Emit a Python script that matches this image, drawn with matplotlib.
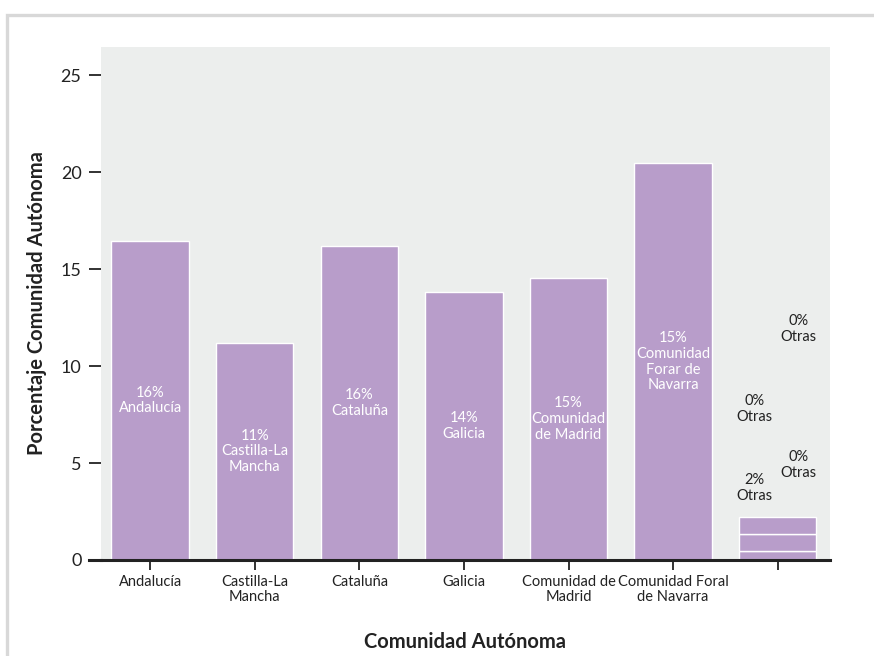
import matplotlib
matplotlib.use("Agg")
import matplotlib.pyplot as plt
from matplotlib.lines import Line2D

plt.rcParams['font.family'] = ['Lato', 'DejaVu Sans']

# Data
categories = ["Andalucía", "Castilla-La\nMancha", "Cataluña", "Galicia",
              "Comunidad de\nMadrid", "Comunidad Foral\nde Navarra", ""]
bar_values = [16.45, 11.2, 16.2, 13.8, 14.55, 20.45]
bar_labels = ["16%\nAndalucía", "11%\nCastilla-La\nMancha", "16%\nCataluña",
              "14%\nGalicia", "15%\nComunidad\nde Madrid",
              "15%\nComunidad\nForar de\nNavarra"]
otras_values = [0.46, 0.88, 0.87, 0.0]
otras_labels = ["2%\nOtras", "0%\nOtras", "0%\nOtras", "0%\nOtras"]
yticks = [0, 5, 10, 15, 20, 25]

# Style
BAR = "#b89dca"
BG = "#eceeed"
INK = "#222222"
otras_label_pos = [(-0.22, 3.7), (-0.22, 7.8), (0.20, 4.9), (0.20, 11.9)]

W, H = 874, 656
fig = plt.figure(figsize=(W / 100, H / 100), dpi=100)
fig.patch.set_facecolor("white")

# card frame: left and top edges
fx, fy = 6.5 / W, 1 - 14.5 / H
fig.add_artist(Line2D([fx, fx, 1.01], [-0.01, fy, fy],
                      transform=fig.transFigure, color="#d8d8d8",
                      linewidth=2.4, solid_joinstyle="miter"))

ax = fig.add_axes([101 / W, 1 - 560 / H, (830 - 101) / W, (560 - 47) / H])
ax.set_facecolor(BG)

x = list(range(len(categories)))
ax.bar(x[:len(bar_values)], bar_values, width=0.74, color=BAR,
       edgecolor="white", linewidth=1.0, zorder=2)

bottom = 0.0
last = len(categories) - 1
for v in otras_values:
    if v > 0:
        ax.bar(last, v, bottom=bottom, width=0.74, color=BAR,
               edgecolor="white", linewidth=1.0, zorder=2)
    bottom += v

for xi, v, lab in zip(x, bar_values, bar_labels):
    ax.text(xi, v / 2, lab, ha="center", va="center", color="white",
            fontsize=10.5, linespacing=1.15, zorder=3)

for (dx, y), lab in zip(otras_label_pos, otras_labels):
    ax.text(last + dx, y, lab, ha="center", va="center", color=INK,
            fontsize=10.5, linespacing=1.15, zorder=3)

ax.set_xlim(-0.47, 6.5)
ax.set_ylim(0, 26.45)
ax.set_xticks(x)
ax.set_xticklabels(categories, fontsize=10.5, color=INK, linespacing=1.1)
ax.set_yticks(yticks)
ax.set_yticklabels([str(t) for t in yticks], fontsize=13, color=INK)

for s in ["top", "right", "left"]:
    ax.spines[s].set_visible(False)
ax.spines["bottom"].set_color(INK)
ax.spines["bottom"].set_linewidth(2.2)
ax.spines["bottom"].set_zorder(4)
ax.tick_params(axis="x", length=7, width=1.3, color=INK, pad=4)
ax.tick_params(axis="y", length=9, width=1.3, color=INK, pad=5)

# baseline continues under the zero tick
ax.add_line(Line2D([-12 / 729, 0], [0, 0], transform=ax.transAxes,
                   color=INK, linewidth=2.2, clip_on=False, zorder=4))

ax.set_xlabel("Comunidad Autónoma", fontsize=14.5, fontweight="bold",
              color=INK, labelpad=20)
ax.set_ylabel("Porcentaje Comunidad Autónoma", fontsize=14.5,
              fontweight="bold", color=INK, labelpad=10)

fig.savefig("out.png", dpi=100)
